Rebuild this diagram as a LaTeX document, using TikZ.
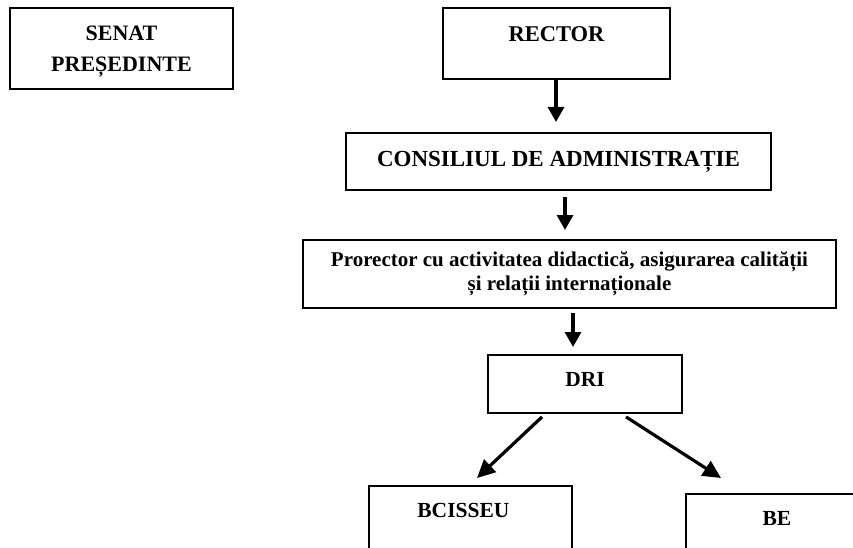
\documentclass[tikz,border=0pt]{standalone}
\usepackage{fontspec}
\setmainfont{Liberation Serif}
\usetikzlibrary{arrows.meta,shadows}
\begin{document}
\begin{tikzpicture}[x=1pt,y=-1pt,
  box/.style={draw, line width=1.8pt, fill=white, inner sep=0pt,
    drop shadow={shadow xshift=-1.3pt, shadow yshift=-1.3pt, fill=black!55, opacity=0.7}},
  arr/.style={line width=3.2pt, -{Triangle[length=15pt,width=16pt]}},
  darr/.style={line width=3.2pt, -{Triangle[length=18pt,width=17pt]}},
  capt/.style={font=\bfseries\fontsize{22}{31}\selectfont, align=center, inner sep=0pt},
  lowt/.style={font=\bfseries\fontsize{21}{24}\selectfont, align=center, inner sep=0pt},
  smallt/.style={font=\bfseries\fontsize{21.5}{24}\selectfont, inner sep=0pt},
]
\clip (0,0) rectangle (853,548);
\fill[white] (0,0) rectangle (853,548);

% boxes
\node[box, minimum width=223pt, minimum height=81pt,
      label={[capt, anchor=center, yshift=-3pt]center:SENAT\\PREȘEDINTE}] (senat) at (121.5,48.5) {};
\node[box, minimum width=227pt, minimum height=71pt,
      label={[capt, font=\bfseries\fontsize{22.5}{31}\selectfont, anchor=center, yshift=-27pt]north:RECTOR}] (rector) at (556.5,43.5) {};
\node[box, capt, font=\bfseries\fontsize{23}{27}\selectfont, minimum width=425pt, minimum height=57pt] (cons) at (558.5,161.5) {CONSILIUL DE ADMINISTRAȚIE};
\node[box, lowt, minimum width=533pt, minimum height=68pt] (pror) at (569.5,274)
  {Prorector cu activitatea didactică, asigurarea calității\\și relații internaționale};
\node[box, minimum width=194pt, minimum height=58pt,
      label={[smallt, anchor=center, yshift=-25pt]north:DRI}] (dri) at (585,384) {};
\node[box, anchor=north west, minimum width=203pt, minimum height=100pt,
      label={[smallt, anchor=center, xshift=-7pt, yshift=-25pt]north:BCISSEU}] (bci) at (368,485) {};
\node[box, anchor=north west, minimum width=182pt, minimum height=100pt,
      label={[smallt, anchor=center, yshift=-25pt]north:BE}] (be) at (685,493) {};

% arrow end points
\coordinate (t1) at (556,122);
\coordinate (t2) at (565,230);
\coordinate (t3) at (573,347);
\coordinate (t4) at (477,478);
\coordinate (t5) at (721,478);

% connectors
\draw[arr] (rector.south -| t1) -- (t1);
\draw[arr, shorten <=6pt] (cons.south -| t2) -- (t2);
\draw[arr, shorten <=4pt] (pror.south -| t3) -- (t3);
\draw[darr] ([xshift=-43pt,yshift=-3pt]dri.south) -- (t4);
\draw[darr] ([xshift=41pt,yshift=-3pt]dri.south) -- (t5);
\end{tikzpicture}
\end{document}
